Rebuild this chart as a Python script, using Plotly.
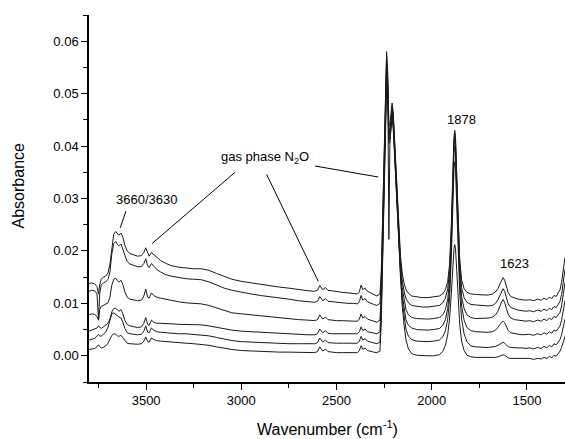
import plotly.graph_objects as go

# Wavenumber grid (cm-1), shared by all spectra
wavenumber = [
    3800, 3785, 3770, 3758, 3750, 3744, 3736, 3725, 3712, 3700, 3690, 3680, 3670, 3660, 3650, 3643, 3632,
    3622, 3612, 3600, 3585, 3565, 3545, 3525, 3512, 3502, 3492, 3484, 3472, 3460, 3445, 3425, 3400,
    3370, 3330, 3290, 3250, 3210, 3170, 3130, 3090, 3050, 3000, 2950, 2900, 2850, 2800, 2750, 2700, 2650,
    2615, 2600, 2588, 2572, 2558, 2545, 2525, 2500, 2470, 2440, 2410, 2390, 2380, 2371, 2362, 2350, 2338,
    2322, 2305, 2288,
    2272, 2265, 2258, 2250, 2243, 2237, 2231, 2225, 2220, 2214, 2208, 2202, 2194, 2184, 2174, 2164, 2155,
    2145, 2135, 2122, 2105,
    2080, 2050, 2020, 1990, 1960, 1942, 1928, 1916, 1906, 1897, 1889, 1883, 1879, 1875, 1869, 1862, 1853,
    1843, 1830, 1815, 1795,
    1770, 1745, 1720, 1700, 1680, 1665, 1652, 1642, 1633, 1625, 1617, 1608, 1598, 1585, 1565, 1545, 1525,
    1505, 1485, 1465, 1445, 1425, 1410, 1395, 1382, 1370, 1358, 1346, 1336, 1326, 1318, 1311, 1305, 1300,
]

absorbance_1 = [
    0.0138, 0.0139, 0.0137, 0.0132, 0.0118, 0.0135, 0.0146, 0.0150, 0.0152, 0.0158, 0.0175, 0.0210, 0.0232, 0.0237, 0.0233, 0.0230, 0.0234,
    0.0226, 0.0211, 0.0200, 0.0195, 0.0192, 0.0190, 0.0191, 0.0197, 0.0206, 0.0196, 0.0190, 0.0197, 0.0193, 0.0187, 0.0182, 0.0177,
    0.0172, 0.0169, 0.0167, 0.0166, 0.0166, 0.0163, 0.0157, 0.0151, 0.0146, 0.0142, 0.0139, 0.0136, 0.0134, 0.0131, 0.0129, 0.0126, 0.0124,
    0.0123, 0.0125, 0.0134, 0.0126, 0.0130, 0.0125, 0.0124, 0.0122, 0.0121, 0.0120, 0.0119, 0.0118, 0.0122, 0.0135, 0.0126, 0.0129, 0.0123,
    0.0120, 0.0117, 0.0114,
    0.0118, 0.0160, 0.0260, 0.0390, 0.0510, 0.0580, 0.0540, 0.0440, 0.0440, 0.0470, 0.0482, 0.0462, 0.0405, 0.0320, 0.0245, 0.0190, 0.0158,
    0.0138, 0.0126, 0.0119, 0.0114,
    0.0112, 0.0111, 0.0111, 0.0112, 0.0114, 0.0118, 0.0126, 0.0142, 0.0175, 0.0250, 0.0355, 0.0418, 0.0430, 0.0415, 0.0350, 0.0260, 0.0185,
    0.0145, 0.0128, 0.0121, 0.0118,
    0.0117, 0.0116, 0.0116, 0.0116, 0.0118, 0.0122, 0.0128, 0.0137, 0.0145, 0.0149, 0.0144, 0.0132, 0.0120, 0.0113, 0.0110, 0.0108, 0.0107,
    0.0106, 0.0107, 0.0105, 0.0108, 0.0106, 0.0110, 0.0107, 0.0112, 0.0109, 0.0115, 0.0113, 0.0120, 0.0126, 0.0140, 0.0158, 0.0175, 0.0188,
]

absorbance_2 = [
    0.0123, 0.0125, 0.0124, 0.0118, 0.0068, 0.0118, 0.0135, 0.0139, 0.0141, 0.0146, 0.0160, 0.0195, 0.0214, 0.0218, 0.0212, 0.0210, 0.0213,
    0.0203, 0.0189, 0.0180, 0.0175, 0.0172, 0.0170, 0.0170, 0.0176, 0.0185, 0.0172, 0.0168, 0.0176, 0.0171, 0.0165, 0.0160, 0.0155,
    0.0152, 0.0149, 0.0147, 0.0146, 0.0145, 0.0141, 0.0135, 0.0129, 0.0125, 0.0121, 0.0118, 0.0115, 0.0113, 0.0110, 0.0108, 0.0105, 0.0103,
    0.0102, 0.0104, 0.0113, 0.0105, 0.0109, 0.0104, 0.0103, 0.0102, 0.0101, 0.0100, 0.0100, 0.0099, 0.0103, 0.0115, 0.0106, 0.0109, 0.0103,
    0.0100, 0.0098, 0.0096,
    0.0100, 0.0145, 0.0245, 0.0380, 0.0500, 0.0572, 0.0520, 0.0222, 0.0400, 0.0445, 0.0478, 0.0458, 0.0400, 0.0314, 0.0238, 0.0180, 0.0145,
    0.0122, 0.0109, 0.0101, 0.0096,
    0.0094, 0.0093, 0.0093, 0.0094, 0.0096, 0.0101, 0.0110, 0.0128, 0.0163, 0.0240, 0.0348, 0.0412, 0.0425, 0.0410, 0.0343, 0.0250, 0.0172,
    0.0130, 0.0111, 0.0102, 0.0098,
    0.0097, 0.0096, 0.0095, 0.0095, 0.0096, 0.0100, 0.0107, 0.0116, 0.0124, 0.0128, 0.0123, 0.0111, 0.0099, 0.0092, 0.0089, 0.0087, 0.0086,
    0.0085, 0.0086, 0.0084, 0.0087, 0.0085, 0.0089, 0.0086, 0.0091, 0.0088, 0.0094, 0.0092, 0.0098, 0.0104, 0.0117, 0.0133, 0.0150, 0.0165,
]

absorbance_3 = [
    0.0078, 0.0080, 0.0079, 0.0075, 0.0068, 0.0088, 0.0094, 0.0096, 0.0098, 0.0101, 0.0112, 0.0135, 0.0146, 0.0148, 0.0143, 0.0141, 0.0144,
    0.0136, 0.0122, 0.0112, 0.0108, 0.0106, 0.0105, 0.0106, 0.0114, 0.0127, 0.0112, 0.0110, 0.0120, 0.0115, 0.0112, 0.0110, 0.0108,
    0.0106, 0.0103, 0.0101, 0.0100, 0.0099, 0.0096, 0.0091, 0.0086, 0.0082, 0.0080, 0.0078, 0.0076, 0.0075, 0.0073, 0.0071, 0.0069, 0.0068,
    0.0067, 0.0069, 0.0078, 0.0070, 0.0074, 0.0069, 0.0068, 0.0067, 0.0067, 0.0066, 0.0066, 0.0066, 0.0070, 0.0080, 0.0072, 0.0075, 0.0070,
    0.0068, 0.0066, 0.0064,
    0.0068, 0.0118, 0.0222, 0.0360, 0.0485, 0.0560, 0.0525, 0.0425, 0.0432, 0.0462, 0.0475, 0.0452, 0.0392, 0.0305, 0.0228, 0.0168, 0.0130,
    0.0104, 0.0088, 0.0078, 0.0073,
    0.0071, 0.0070, 0.0070, 0.0071, 0.0073, 0.0078, 0.0088, 0.0108, 0.0145, 0.0225, 0.0335, 0.0402, 0.0415, 0.0400, 0.0332, 0.0238, 0.0158,
    0.0113, 0.0090, 0.0078, 0.0073,
    0.0071, 0.0071, 0.0071, 0.0072, 0.0074, 0.0078, 0.0085, 0.0095, 0.0103, 0.0107, 0.0102, 0.0090, 0.0079, 0.0072, 0.0069, 0.0068, 0.0067,
    0.0066, 0.0067, 0.0065, 0.0068, 0.0066, 0.0070, 0.0067, 0.0072, 0.0069, 0.0075, 0.0073, 0.0078, 0.0083, 0.0095, 0.0110, 0.0125, 0.0140,
]

absorbance_4 = [
    0.0047, 0.0049, 0.0050, 0.0053, 0.0057, 0.0055, 0.0052, 0.0055, 0.0058, 0.0062, 0.0070, 0.0084, 0.0090, 0.0091, 0.0087, 0.0085, 0.0088,
    0.0080, 0.0068, 0.0060, 0.0057, 0.0055, 0.0054, 0.0055, 0.0062, 0.0073, 0.0060, 0.0058, 0.0068, 0.0064, 0.0062, 0.0062, 0.0061,
    0.0061, 0.0060, 0.0060, 0.0060, 0.0059, 0.0057, 0.0054, 0.0051, 0.0049, 0.0047, 0.0046, 0.0045, 0.0044, 0.0042, 0.0041, 0.0040, 0.0040,
    0.0040, 0.0042, 0.0051, 0.0044, 0.0048, 0.0043, 0.0042, 0.0042, 0.0042, 0.0042, 0.0042, 0.0042, 0.0046, 0.0055, 0.0048, 0.0051, 0.0046,
    0.0045, 0.0044, 0.0042,
    0.0046, 0.0098, 0.0205, 0.0345, 0.0472, 0.0545, 0.0515, 0.0420, 0.0425, 0.0455, 0.0468, 0.0446, 0.0386, 0.0298, 0.0220, 0.0158, 0.0117,
    0.0087, 0.0068, 0.0058, 0.0053,
    0.0050, 0.0049, 0.0049, 0.0050, 0.0052, 0.0058, 0.0069, 0.0090, 0.0128, 0.0210, 0.0320, 0.0388, 0.0400, 0.0386, 0.0318, 0.0225, 0.0143,
    0.0095, 0.0068, 0.0054, 0.0048,
    0.0046, 0.0045, 0.0045, 0.0045, 0.0046, 0.0049, 0.0054, 0.0060, 0.0064, 0.0066, 0.0063, 0.0055, 0.0048, 0.0044, 0.0042, 0.0041, 0.0040,
    0.0040, 0.0041, 0.0039, 0.0042, 0.0040, 0.0044, 0.0041, 0.0046, 0.0043, 0.0049, 0.0047, 0.0052, 0.0057, 0.0068, 0.0080, 0.0093, 0.0105,
]

absorbance_5 = [
    0.0030, 0.0031, 0.0033, 0.0038, 0.0041, 0.0038, 0.0037, 0.0041, 0.0045, 0.0055, 0.0068, 0.0080, 0.0082, 0.0078, 0.0076, 0.0074, 0.0072,
    0.0064, 0.0052, 0.0044, 0.0042, 0.0041, 0.0040, 0.0041, 0.0047, 0.0057, 0.0045, 0.0044, 0.0053, 0.0049, 0.0046, 0.0045, 0.0044,
    0.0043, 0.0042, 0.0042, 0.0041, 0.0040, 0.0038, 0.0035, 0.0032, 0.0029, 0.0027, 0.0026, 0.0025, 0.0024, 0.0023, 0.0023, 0.0023, 0.0023,
    0.0023, 0.0025, 0.0034, 0.0026, 0.0030, 0.0025, 0.0024, 0.0024, 0.0024, 0.0024, 0.0024, 0.0024, 0.0028, 0.0037, 0.0030, 0.0033, 0.0028,
    0.0026, 0.0025, 0.0023,
    0.0026, 0.0080, 0.0190, 0.0332, 0.0460, 0.0532, 0.0505, 0.0412, 0.0418, 0.0448, 0.0460, 0.0440, 0.0380, 0.0292, 0.0213, 0.0150, 0.0105,
    0.0072, 0.0050, 0.0037, 0.0031,
    0.0028, 0.0027, 0.0027, 0.0028, 0.0030, 0.0036, 0.0048, 0.0070, 0.0110, 0.0190, 0.0295, 0.0358, 0.0370, 0.0356, 0.0290, 0.0200, 0.0120,
    0.0070, 0.0042, 0.0027, 0.0019,
    0.0017, 0.0016, 0.0016, 0.0016, 0.0017, 0.0018, 0.0020, 0.0022, 0.0024, 0.0026, 0.0024, 0.0020, 0.0017, 0.0016, 0.0015, 0.0015, 0.0015,
    0.0014, 0.0015, 0.0013, 0.0016, 0.0014, 0.0018, 0.0015, 0.0020, 0.0017, 0.0023, 0.0021, 0.0026, 0.0031, 0.0040, 0.0050, 0.0060, 0.0070,
]

absorbance_6 = [
    0.0012, 0.0013, 0.0014, 0.0017, 0.0021, 0.0018, 0.0015, 0.0016, 0.0019, 0.0024, 0.0031, 0.0039, 0.0042, 0.0041, 0.0038, 0.0037, 0.0039,
    0.0034, 0.0028, 0.0024, 0.0023, 0.0022, 0.0022, 0.0023, 0.0028, 0.0036, 0.0027, 0.0026, 0.0034, 0.0031, 0.0029, 0.0028, 0.0027,
    0.0026, 0.0025, 0.0024, 0.0023, 0.0022, 0.0020, 0.0017, 0.0014, 0.0012, 0.0010, 0.0009, 0.0008, 0.0008, 0.0007, 0.0007, 0.0007, 0.0006,
    0.0006, 0.0008, 0.0017, 0.0009, 0.0013, 0.0008, 0.0007, 0.0006, 0.0006, 0.0006, 0.0006, 0.0006, 0.0010, 0.0019, 0.0012, 0.0015, 0.0010,
    0.0008, 0.0007, 0.0006,
    0.0009, 0.0062, 0.0175, 0.0320, 0.0448, 0.0518, 0.0495, 0.0405, 0.0410, 0.0440, 0.0452, 0.0432, 0.0374, 0.0285, 0.0205, 0.0142, 0.0095,
    0.0058, 0.0030, 0.0013, 0.0004,
    0.0001, 0.0000, 0.0000, 0.0000, 0.0002, 0.0008, 0.0020, 0.0040, 0.0072, 0.0118, 0.0175, 0.0205, 0.0212, 0.0204, 0.0165, 0.0108, 0.0060,
    0.0028, 0.0010, 0.0001, -0.0002,
    -0.0003, -0.0003, -0.0004, -0.0004, -0.0004, -0.0003, -0.0002, -0.0001, 0.0001, 0.0002, 0.0001, -0.0002, -0.0004, -0.0005, -0.0005, -0.0006, -0.0006,
    -0.0006, -0.0005, -0.0007, -0.0005, -0.0006, -0.0003, -0.0005, -0.0001, -0.0004, 0.0001, -0.0001, 0.0004, 0.0009, 0.0016, 0.0023, 0.0030, 0.0037,
]

spectra = [absorbance_1, absorbance_2, absorbance_3, absorbance_4, absorbance_5, absorbance_6]
for s in spectra:
    if len(s) != len(wavenumber):
        raise ValueError(f"length mismatch {len(s)} vs {len(wavenumber)}")

# Annotation texts and anchor positions (data coordinates)
label_texts = ["3660/3630", "gas phase N<sub>2</sub>O", "1878", "1623"]
label_x = [3500, 2876, 1842, 1564]
label_y = [0.0298, 0.0379, 0.0451, 0.0176]

# Pointer lines: (x0, y0, x1, y1)
pointer_lines = [
    (3606, 0.0276, 3636, 0.0244),
    (3033, 0.0350, 3469, 0.0214),
    (2867, 0.0346, 2596, 0.0142),
    (2613, 0.0362, 2281, 0.0341),
]

FONT = "Liberation Sans, Arial, sans-serif"

fig = go.Figure()
for s in spectra:
    fig.add_trace(go.Scatter(x=wavenumber, y=s, mode="lines",
                             line=dict(color="#1a1a1a", width=1), hoverinfo="skip"))

for (x0, y0, x1, y1) in pointer_lines:
    fig.add_shape(type="line", xref="x", yref="y", x0=x0, y0=y0, x1=x1, y1=y1,
                  line=dict(color="black", width=1))

for t, x, y in zip(label_texts, label_x, label_y):
    fig.add_annotation(x=x, y=y, xref="x", yref="y", text=t, showarrow=False,
                       font=dict(size=13, color="black", family=FONT))

fig.add_annotation(text="Absorbance", xref="paper", yref="paper", x=-0.149, y=0.533,
                   textangle=-90, showarrow=False, xanchor="center", yanchor="middle",
                   font=dict(size=16, color="black", family=FONT))
fig.add_annotation(text="Wavenumber (cm<sup>-1</sup>)", xref="paper", yref="paper", x=0.5, y=-0.125,
                   showarrow=False, xanchor="center", yanchor="middle",
                   font=dict(size=16, color="black", family=FONT))

fig.update_layout(
    width=565, height=439,
    margin=dict(l=89, r=0, t=15, b=57),
    plot_bgcolor="white", paper_bgcolor="white",
    showlegend=False,
    font=dict(family=FONT, color="black", size=13),
    xaxis=dict(range=[3800, 1300], tickvals=[3500, 3000, 2500, 2000, 1500],
               ticks="outside", ticklen=6, tickwidth=1, tickcolor="black",
               showline=True, linewidth=1.5, linecolor="black", showgrid=False, zeroline=False,
               minor=dict(ticks="outside", ticklen=4, tickwidth=1, tickcolor="black",
                          tickvals=[3750, 3250, 2750, 2250, 1750, 1250], showgrid=False),
               tickfont=dict(size=13, family=FONT)),
    yaxis=dict(range=[-0.005, 0.065], dtick=0.01, tick0=0, tickformat=".2f",
               ticks="outside", ticklen=6, tickwidth=1, tickcolor="black",
               showline=True, linewidth=1.5, linecolor="black", showgrid=False, zeroline=False,
               minor=dict(ticks="outside", ticklen=4, tickwidth=1, tickcolor="black",
                          dtick=0.005, tick0=0, showgrid=False),
               tickfont=dict(size=13, family=FONT)),
)

fig.write_html(
    "out.html",
    config={"displayModeBar": False},
    post_script="document.body.style.margin='0px';document.body.style.overflow='hidden';",
)
